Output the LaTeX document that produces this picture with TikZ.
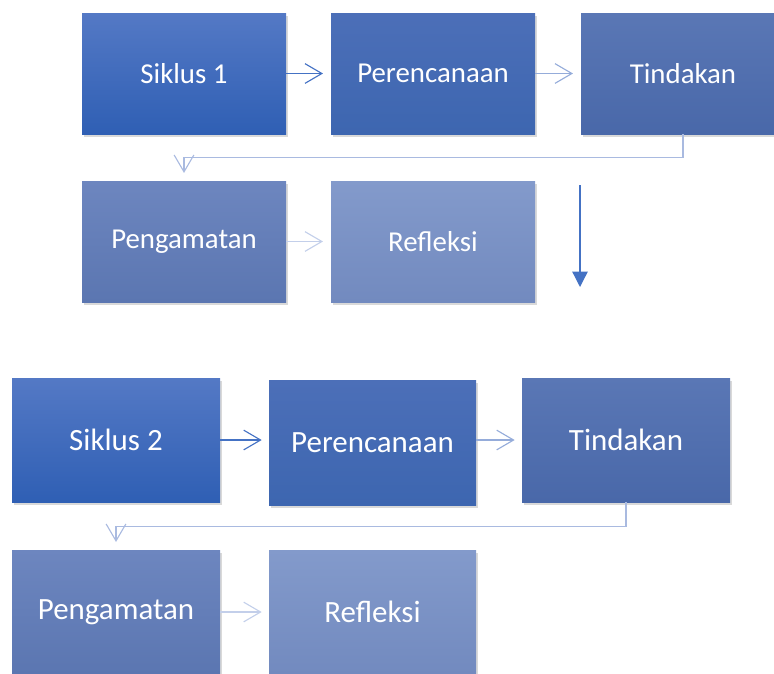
\documentclass[tikz,border=0pt]{standalone}
\usepackage{fontspec}
\setmainfont{Carlito}
\usetikzlibrary{arrows.meta,shadows}

\definecolor{siklusTop}{HTML}{5479C5}
\definecolor{siklusBot}{HTML}{2F5FB4}
\definecolor{rencanaTop}{HTML}{4C6FB8}
\definecolor{rencanaBot}{HTML}{3D66B0}
\definecolor{tindakTop}{HTML}{5A77B5}
\definecolor{tindakBot}{HTML}{4968A9}
\definecolor{amatTop}{HTML}{6D86BF}
\definecolor{amatBot}{HTML}{5B76B1}
\definecolor{refleksiTop}{HTML}{839ACB}
\definecolor{refleksiBot}{HTML}{728ABF}
\definecolor{arrowDark}{HTML}{4472C4}
\definecolor{arrowLight}{HTML}{A9BAE0}
\definecolor{arrowPale}{HTML}{C3CFEA}

\tikzset{
  box/.style={minimum width=204*0.025cm,minimum height=121*0.025cm,inner sep=0pt,
    text=white,font=\fontsize{20.5}{24}\selectfont,
    drop shadow={opacity=0.3,shadow xshift=1.5pt,shadow yshift=-2pt}},
  bigbox/.style={box,minimum width=208*0.025cm,minimum height=124*0.025cm,
    font=\fontsize{22}{26}\selectfont},
  siklus/.style={top color=siklusTop,bottom color=siklusBot},
  rencana/.style={top color=rencanaTop,bottom color=rencanaBot},
  tindak/.style={top color=tindakTop,bottom color=tindakBot},
  amat/.style={top color=amatTop,bottom color=amatBot},
  refl/.style={top color=refleksiTop,bottom color=refleksiBot},
  barb/.style={-{Straight Barb[length=12pt,width=14pt]},line width=0.8pt},
}

\begin{document}
\begin{tikzpicture}[x=0.025cm,y=-0.025cm]
\useasboundingbox (0,0) rectangle (774,673);

% siklus 1
\node[box,siklus]  (siklusA)  at (184,73.5)  {Siklus 1};
\node[box,rencana] (rencanaA) at (433,73.5)  {Perencanaan};
\node[box,tindak]  (tindakA)  at (683,73.5)  {Tindakan};
\node[box,amat]    (amatA)    at (184,241.5) {Pengamatan};
\node[box,refl]    (reflA)    at (433,241.5) {Refleksi};

\draw[barb,arrowDark,shorten >=5.5pt] (siklusA.east) -- (rencanaA.west);
\draw[barb,arrowLight!80!arrowDark,shorten >=5.5pt] (rencanaA.east) -- (tindakA.west);
\draw[barb,arrowLight,shorten >=5.5pt] (tindakA.south) -- ++(0,23) -| (amatA.north);
\draw[barb,arrowPale,shorten >=5.5pt] (amatA.east) -- (reflA.west);

% panah ke siklus 2
\coordinate (turunA) at (580,185);
\coordinate (turunB) at (580,287);
\draw[arrowDark,line width=0.9pt,-{Triangle[length=11pt,width=11pt]}] (turunA) -- (turunB);

% siklus 2
\node[bigbox,siklus]  (siklusB)  at (116,440)   {Siklus 2};
\node[bigbox,rencana,minimum width=207*0.025cm,minimum height=125*0.025cm] (rencanaB) at (372.5,442.5) {Perencanaan};
\node[bigbox,tindak]  (tindakB)  at (626,440)   {Tindakan};
\node[bigbox,amat]    (amatB)    at (116,612)   {Pengamatan};
\node[bigbox,refl,minimum width=207*0.025cm] (reflB) at (372.5,612) {Refleksi};

\draw[barb,arrowDark,shorten >=5pt] (siklusB.east) -- (siklusB.east -| rencanaB.west);
\draw[barb,arrowLight!80!arrowDark,shorten >=5pt] (rencanaB.east |- tindakB.west) -- (tindakB.west);
\draw[barb,arrowLight,shorten >=5.5pt] (tindakB.south) -- ++(0,24) -| (amatB.north);
\draw[barb,arrowPale,shorten >=5pt] (amatB.east) -- (reflB.west);
\end{tikzpicture}
\end{document}
